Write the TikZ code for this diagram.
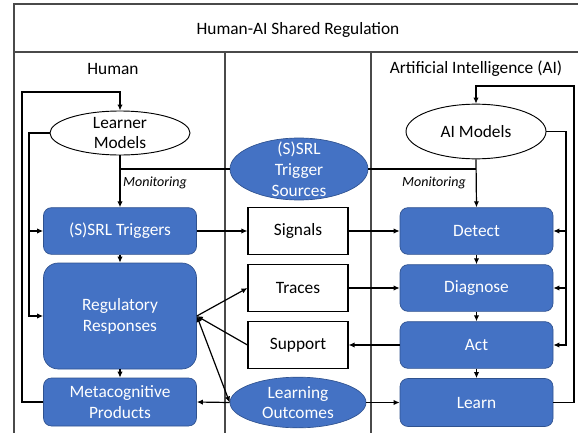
\documentclass[tikz,border=0pt]{standalone}
\usepackage{fontspec}
\setmainfont{Carlito}
\usetikzlibrary{shapes.geometric,arrows.meta}
\definecolor{ablue}{HTML}{4472C4}
\definecolor{aedge}{HTML}{2F528F}
\definecolor{framegray}{HTML}{4A4A4A}
\tikzset{
  txt/.style={font=\fontsize{13}{15.6}\selectfont, align=center},
  bluebox/.style={rectangle, rounded corners=6pt, fill=ablue, draw=aedge, line width=0.5pt,
    text=white, txt, minimum width=114.75pt, minimum height=35pt, inner sep=0pt},
  whitebox/.style={rectangle, fill=white, draw=black, line width=0.8pt, txt,
    minimum width=75pt, minimum height=35pt, inner sep=0pt},
  oval/.style={ellipse, inner sep=0pt},
  blueoval/.style={oval, fill=ablue, draw=aedge, line width=0.5pt},
  whiteoval/.style={oval, fill=white, draw=black, line width=0.7pt},
  otext/.style={txt},
  wire/.style={draw, line width=0.9pt},
  conn/.style={wire, -{Latex[length=4.5pt,width=4pt]}},
  both/.style={wire, {Latex[length=4.5pt,width=4pt]}-{Latex[length=4.5pt,width=4pt]}},
  frameline/.style={draw=framegray, line width=1pt},
  mon/.style={font=\fontsize{10.5}{12}\selectfont\itshape}
}
\begin{document}
\begin{tikzpicture}[x=0.75pt,y=-0.75pt]
\useasboundingbox (0,0) rectangle (578,432);
\clip (0,0) rectangle (578,432);

% frame, title row and the three columns
\draw[frameline] (14,445) |- (595,4);
\draw[frameline] (14,52) -- (595,52);
\draw[frameline] (225,52) -- (225,445);
\draw[frameline] (371,52) -- (371,445);
\node[txt] (title) at (298,30) {Human-AI Shared Regulation};
\node[txt] (hhuman) at (113,69) {Human};
\node[txt] (hai) at (476,69) {Artificial Intelligence (AI)};

% human column
\node[whiteoval, minimum width=105pt, minimum height=33pt,
      label={[otext]center:Learner\\Models}] (lm) at (120,133) {};
\node[bluebox] (trig) at (120,231) {(S)SRL Triggers};
\node[bluebox, minimum height=79.5pt, rounded corners=11pt] (reg) at (120,316) {Regulatory\\Responses};
\node[bluebox, minimum height=36pt] (mp) at (120,402) {Metacognitive\\Products};

% shared column
\node[blueoval, minimum width=103.5pt, minimum height=46.5pt,
      label={[otext, text=white]center:(S)SRL\\Trigger\\Sources}] (ts) at (299,169) {};
\node[whitebox] (sig) at (298,231) {Signals};
\node[whitebox] (tra) at (298,288) {Traces};
\node[whitebox] (sup) at (298,345) {Support};
\node[blueoval, minimum width=102pt, minimum height=38pt,
      label={[otext, text=white]center:Learning\\Outcomes}] (lo) at (298,402.5) {};

% AI column
\node[whiteoval, minimum width=105pt, minimum height=41pt,
      label={[otext]center:AI Models}] (aim) at (476,131.5) {};
\node[bluebox] (det) at (476.5,231) {Detect};
\node[bluebox] (dia) at (476.5,288) {Diagnose};
\node[bluebox] (act) at (476.5,345) {Act};
\node[bluebox, minimum height=36pt] (lrn) at (476.5,402.5) {Learn};

% bends of the feedback loops
\coordinate (ltop) at (22,92);
\coordinate (lbus) at (29,133);
\coordinate (rtop) at (574,86);
\coordinate (rbus) at (566,131.5);

% human loops
\draw[conn] (mp.west) -| (ltop) -| (lm.north);
\draw[conn] (lm.west) -- (lbus) |- (reg.west);
\draw[conn] (lbus |- trig.west) -- (trig.west);
\draw[conn] (lm.south) -- (trig.north);
\draw[wire] (ts.west) -- (lm.south |- ts.west);
\node[mon] (monl) at (155,183) {Monitoring};
\draw[conn] (trig.south) -- (reg.north);
\draw[conn] (reg.south) -- (mp.north);

% AI loops
\draw[conn] (lrn.east) -| (rtop) -| (aim.north);
\draw[conn] (aim.east) -- (rbus) |- (act.east);
\draw[conn] (rbus |- det.east) -- (det.east);
\draw[conn] (rbus |- dia.east) -- (dia.east);
\draw[conn] (aim.south) -- (det.north);
\draw[wire] (ts.east) -- (aim.south |- ts.east);
\node[mon] (monr) at (434,183) {Monitoring};
\draw[conn] (det.south) -- (dia.north);
\draw[conn] (dia.south) -- (act.north);
\draw[conn] (act.south) -- (lrn.north);

% exchanges across the shared column
\draw[conn] (trig.east) -- (sig.west);
\draw[conn] (sig.east) -- (det.west);
\draw[conn] (tra.east) -- (dia.west);
\draw[conn] (act.west) -- (sup.east);
\draw[conn] (lo.east) -- (lrn.west);
\draw[conn] (lo.west) -- (mp.east);
\draw[conn] (reg.east) -- (tra.west);
\draw[conn] (sup.west) -- (reg.east);
\draw[both] (reg.east) -- (lo.west);
\end{tikzpicture}
\end{document}
